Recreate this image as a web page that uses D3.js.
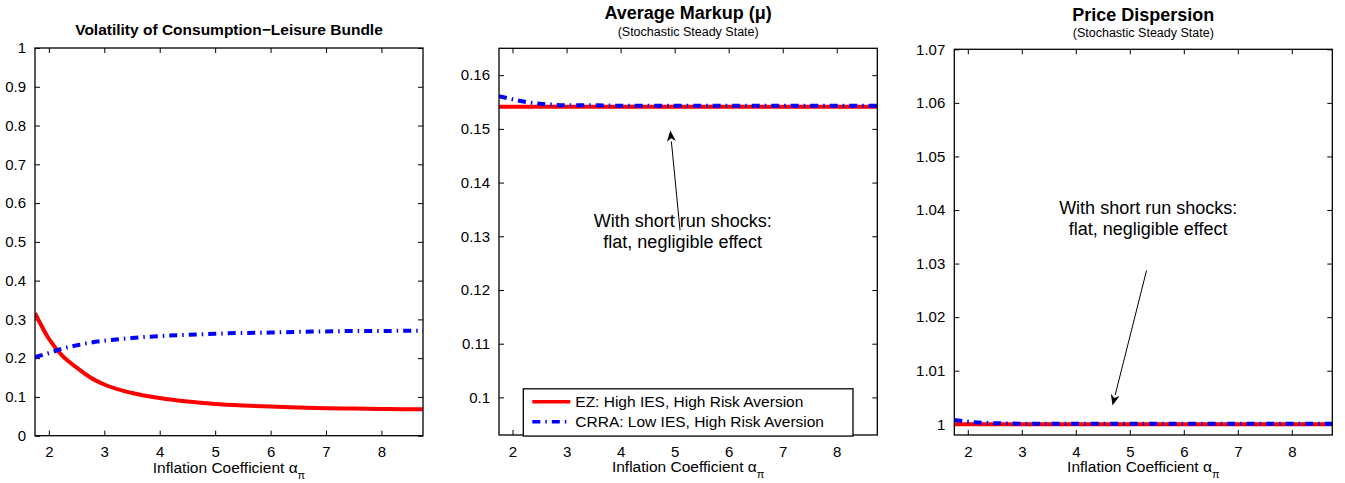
<!DOCTYPE html>
<html>
<head>
<meta charset="utf-8">
<script src="https://cdn.jsdelivr.net/npm/d3@7/dist/d3.min.js"></script>
<style>
  html, body { margin: 0; padding: 0; background: #fff; }
  svg { display: block; }
  text { font-family: "Liberation Sans", Arial, Helvetica, sans-serif; fill: #000; }
</style>
</head>
<body>
<svg id="chart" width="1345" height="483"></svg>
<script>
// ---------------- data ----------------
const alphaPi = [1.75, 2, 2.25, 2.5, 2.75, 3, 3.5, 4, 4.5, 5, 5.5, 6, 6.5, 7, 7.5, 8, 8.5, 8.75];

const volEZ   = [0.316, 0.250, 0.205, 0.176, 0.150, 0.132, 0.110, 0.097, 0.088, 0.082, 0.078, 0.075, 0.073, 0.071, 0.070, 0.069, 0.068, 0.068];
const volCRRA = [0.203, 0.213, 0.225, 0.233, 0.240, 0.245, 0.252, 0.257, 0.260, 0.263, 0.265, 0.266, 0.268, 0.269, 0.270, 0.270, 0.271, 0.271];

const markupEZ   = [0.1541, 0.1541, 0.1541, 0.1541, 0.1541, 0.1541, 0.1541, 0.1541, 0.1541, 0.1541, 0.1541, 0.1541, 0.1541, 0.1541, 0.1541, 0.1541, 0.1541, 0.1541];
const markupCRRA = [0.1561, 0.1555, 0.1550, 0.1547, 0.1545, 0.1544, 0.1544, 0.1543, 0.1543, 0.1543, 0.1543, 0.1543, 0.1543, 0.1543, 0.1543, 0.1543, 0.1543, 0.1543];

const dispEZ   = [1.0, 1.0, 1.0, 1.0, 1.0, 1.0, 1.0, 1.0, 1.0, 1.0, 1.0, 1.0, 1.0, 1.0, 1.0, 1.0, 1.0, 1.0];
const dispCRRA = [1.0008, 1.0005, 1.0003, 1.0002, 1.00015, 1.0001, 1.0001, 1.0001, 1.0001, 1.0001, 1.0001, 1.0001, 1.0001, 1.0001, 1.0001, 1.0001, 1.0001, 1.0001];

const xTicks = [2, 3, 4, 5, 6, 7, 8];
const volTicks = [0, 0.1, 0.2, 0.3, 0.4, 0.5, 0.6, 0.7, 0.8, 0.9, 1];
const markupTicks = [0.10, 0.11, 0.12, 0.13, 0.14, 0.15, 0.16];
const dispTicks = [1, 1.01, 1.02, 1.03, 1.04, 1.05, 1.06, 1.07];

const seriesNames = ["EZ: High IES, High Risk Aversion", "CRRA: Low IES, High Risk Aversion"];
const annotationLines = ["With short run shocks:", "flat, negligible effect"];

// ---------------- layout ----------------
const svg = d3.select("#chart");
const FS = 15.5;

const panels = [
  { box: [35, 48, 423, 435.7], ydom: [0, 1], yticks: volTicks, ez: volEZ, crra: volCRRA,
    title: "Volatility of Consumption\u2212Leisure Bundle", titleSize: 15.5, titleY: 35, sub: null,
    fmt: d => d3.format("")(+d.toFixed(2)) },
  { box: [499, 48.3, 877.3, 435], ydom: [0.093, 0.165], yticks: markupTicks, ez: markupEZ, crra: markupCRRA,
    title: "Average Markup (\u03bc)", titleSize: 18, titleY: 19, sub: "(Stochastic Steady State)",
    fmt: d => String(+d.toFixed(2)),
    legend: true,
    annot: { text: [5.15, 0.1318], tail: [5.10, 0.1311], tip: [4.92, 0.1497] } },
  { box: [954.3, 49.3, 1332.3, 435], ydom: [0.998, 1.07], yticks: dispTicks, ez: dispEZ, crra: dispCRRA,
    title: "Price Dispersion", titleSize: 18, titleY: 21, sub: "(Stochastic Steady State)",
    fmt: d => String(+d.toFixed(2)),
    annot: { text: [5.34, 1.0392], tail: [5.31, 1.0287], tip: [4.68, 1.0035] } }
];

const subY = [null, 36, 37];

panels.forEach((p, i) => {
  const [x0, y0, x1, y1] = p.box;
  const x = d3.scaleLinear().domain([1.75, 8.75]).range([x0, x1]);
  const y = d3.scaleLinear().domain(p.ydom).range([y1, y0]);
  const g = svg.append("g");

  // clip
  const cid = "clip" + i;
  svg.append("clipPath").attr("id", cid).append("rect")
    .attr("x", x0).attr("y", y0).attr("width", x1 - x0).attr("height", y1 - y0);

  // axes: ticks inward on all four sides
  const tl = 5;
  const bottom = d3.axisBottom(x).tickValues(xTicks).tickSize(-tl).tickPadding(tl + 6).tickFormat(d3.format("d"));
  const top = d3.axisTop(x).tickValues(xTicks).tickSize(-tl).tickFormat("");
  const left = d3.axisLeft(y).tickValues(p.yticks).tickSize(-tl).tickPadding(tl + 4).tickFormat(p.fmt);
  const right = d3.axisRight(y).tickValues(p.yticks).tickSize(-tl).tickFormat("");

  const styleAxis = sel => {
    sel.select(".domain").remove();
    sel.selectAll(".tick line").attr("stroke", "#000").attr("stroke-width", 1);
    sel.selectAll(".tick text").style("font-family", "Liberation Sans, Arial, sans-serif").style("font-size", "15px").attr("fill", "#000");
  };
  g.append("g").attr("transform", `translate(0,${y1})`).call(bottom).call(styleAxis);
  g.append("g").attr("transform", `translate(0,${y0})`).call(top).call(styleAxis);
  g.append("g").attr("transform", `translate(${x0},0)`).call(left).call(styleAxis);
  g.append("g").attr("transform", `translate(${x1},0)`).call(right).call(styleAxis);

  // lines
  const line = d3.line().x((d, k) => x(alphaPi[k])).y(d => y(d)).curve(d3.curveMonotoneX);
  const lg = g.append("g").attr("clip-path", `url(#${cid})`);
  lg.append("path").datum(p.ez).attr("d", line)
    .attr("fill", "none").attr("stroke", "#ff0000").attr("stroke-width", 4);
  lg.append("path").datum(p.crra).attr("d", line)
    .attr("fill", "none").attr("stroke", "#0000ff").attr("stroke-width", 4)
    .attr("stroke-dasharray", "8,5,1.5,5");

  // box
  g.append("rect").attr("x", x0).attr("y", y0).attr("width", x1 - x0).attr("height", y1 - y0)
    .attr("fill", "none").attr("stroke", "#000").attr("stroke-width", 1.3);

  // titles
  g.append("text").attr("x", (x0 + x1) / 2).attr("y", p.titleY)
    .attr("text-anchor", "middle").style("font-weight", "bold").style("font-size", p.titleSize + "px")
    .text(p.title);
  if (p.sub) {
    g.append("text").attr("x", (x0 + x1) / 2).attr("y", subY[i])
      .attr("text-anchor", "middle").style("font-size", "12.5px").text(p.sub);
  }

  // x label with subscript
  const xl = g.append("text").attr("x", (x0 + x1) / 2).attr("y", y1 + 37)
    .attr("text-anchor", "middle").style("font-size", FS + "px");
  xl.append("tspan").text("Inflation Coefficient \u03b1");
  xl.append("tspan").attr("dy", 6).style("font-size", "11px").text("\u03c0");

  // annotation
  if (p.annot) {
    const a = p.annot;
    const tx = x(a.text[0]), ty = y(a.text[1]);
    annotationLines.forEach((s, k) => {
      g.append("text").attr("x", tx).attr("y", ty + k * 21)
        .attr("text-anchor", "middle").style("font-size", "18px").text(s);
    });
    const sx = x(a.tail[0]), sy = y(a.tail[1]);
    const ex = x(a.tip[0]), ey = y(a.tip[1]);
    const ang = Math.atan2(ey - sy, ex - sx);
    const hl = 11, hw = 4.5;
    const bx = ex - hl * Math.cos(ang), by = ey - hl * Math.sin(ang);
    const nx = -Math.sin(ang), ny = Math.cos(ang);
    g.append("line").attr("x1", sx).attr("y1", sy).attr("x2", bx).attr("y2", by)
      .attr("stroke", "#000").attr("stroke-width", 1);
    const bx2 = ex - hl * 0.7 * Math.cos(ang), by2 = ey - hl * 0.7 * Math.sin(ang);
    g.append("path")
      .attr("d", `M${ex},${ey}L${bx + nx * hw},${by + ny * hw}L${bx2},${by2}L${bx - nx * hw},${by - ny * hw}Z`)
      .attr("fill", "#000");
  }

  // legend
  if (p.legend) {
    const lx0 = x(2.2), ly0 = y(0.1016), lx1 = x(8.3), ly1 = y(0.0928);
    const lgd = g.append("g");
    lgd.append("rect").attr("x", lx0).attr("y", ly0).attr("width", lx1 - lx0).attr("height", ly1 - ly0)
      .attr("fill", "#fff").attr("stroke", "#000").attr("stroke-width", 1.3);
    const rowY = [ly0 + 13, ly0 + 33];
    const cols = ["#ff0000", "#0000ff"];
    const dashes = [null, "8,5,1.5,5"];
    seriesNames.forEach((s, k) => {
      lgd.append("line").attr("x1", lx0 + 9).attr("x2", lx0 + 47).attr("y1", rowY[k]).attr("y2", rowY[k])
        .attr("stroke", cols[k]).attr("stroke-width", 3.5)
        .attr("stroke-dasharray", dashes[k]);
      lgd.append("text").attr("x", lx0 + 52).attr("y", rowY[k] + 5.5)
        .style("font-size", FS + "px").text(s);
    });
  }
});
</script>
</body>
</html>
